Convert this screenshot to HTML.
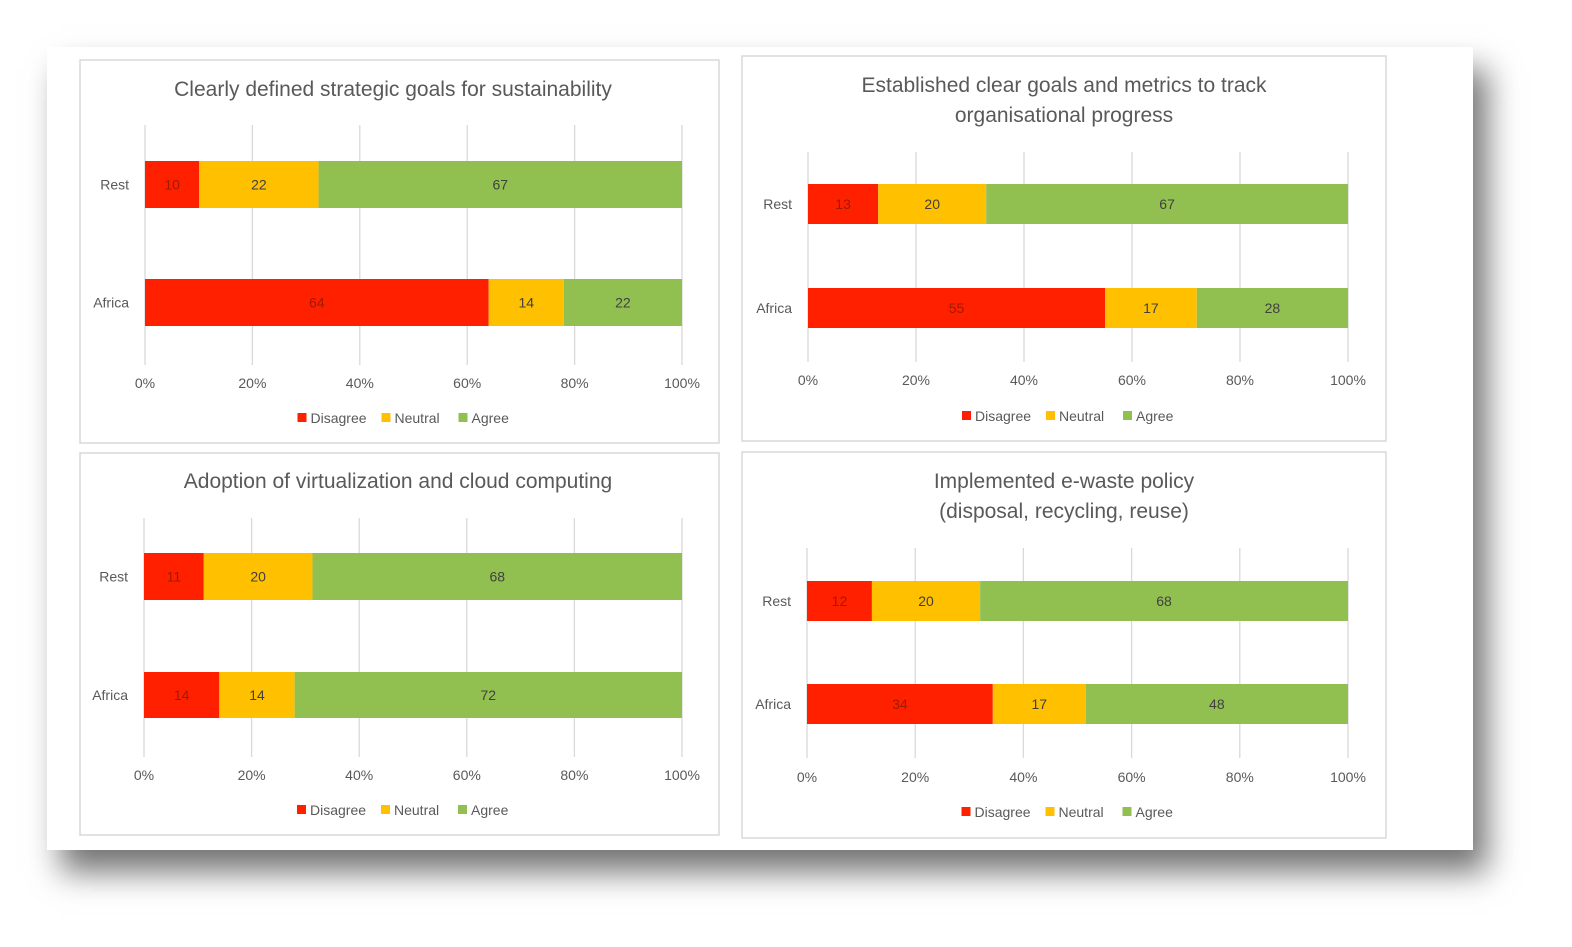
<!DOCTYPE html>
<html><head><meta charset="utf-8">
<style>
body{margin:0;width:1572px;height:947px;background:#fff;overflow:hidden;font-family:"Liberation Sans",sans-serif;}
#card{position:absolute;left:47px;top:47px;width:1426px;height:803px;background:#fff;box-shadow:14px 22px 30px rgba(0,0,0,0.55);}
svg{position:absolute;left:0;top:0;}
</style></head><body>
<div id="card"></div>
<svg id="s" width="1572" height="947"></svg>
<script>
const categories=["Rest","Africa"];
const seriesNames=["Disagree","Neutral","Agree"];
const colors=["#ff2000","#ffc000","#92c050"];
const titles=[["Clearly defined strategic goals for sustainability"],["Established clear goals and metrics to track","organisational progress"],["Adoption of virtualization and cloud computing"],["Implemented e-waste policy","(disposal, recycling, reuse)"]];
const disagree=[[10,64],[13,55],[11,14],[12,34]];
const neutral=[[22,14],[20,17],[20,14],[20,17]];
const agree=[[67,22],[67,28],[68,72],[68,48]];
const ticks=[0,20,40,60,80,100];
const panels=[
 {x:80,y:60,w:639,h:383,tx:393,ty:[89],x0:145,x1:682,bars:[[161,208],[279,326]],g:[125,365],tk:383,lg:418},
 {x:742,y:56,w:644,h:385,tx:1064,ty:[85,115],x0:808,x1:1348,bars:[[184,224],[288,328]],g:[152,362],tk:380,lg:416},
 {x:80,y:453,w:639,h:382,tx:398,ty:[481],x0:144,x1:682,bars:[[553,600],[672,718]],g:[518,757],tk:775,lg:810},
 {x:742,y:452,w:644,h:386,tx:1064,ty:[481,511],x0:807,x1:1348,bars:[[581,621],[684,724]],g:[548,758],tk:777,lg:812}];
const svg=document.getElementById('s');const NS='http://www.w3.org/2000/svg';
function el(t,a,p){const e=document.createElementNS(NS,t);for(const k in a)e.setAttribute(k,a[k]);(p||svg).appendChild(e);return e;}
function txt(s,a,p){const e=el('text',a,p);e.textContent=s;return e;}
panels.forEach((P,i)=>{
 const g=el('g',{});
 
 
 const r=el('rect',{x:P.x,y:P.y,width:P.w,height:P.h,fill:'#fff',stroke:'#d9d9d9','stroke-width':1.5},g);
 
 titles[i].forEach((t,j)=>{const e=txt(t,{x:P.tx,y:P.ty[j]+7,'text-anchor':'middle','font-size':21,fill:'#595959'},g);
  });
 const xs=v=>P.x0+(P.x1-P.x0)*v/100;
 ticks.forEach(t=>{const l=el('line',{x1:xs(t),x2:xs(t),y1:P.g[0],y2:P.g[1],stroke:'#d9d9d9','stroke-width':1.3},g);
  
  const e=txt(t+'%',{x:xs(t),y:P.tk+5,'text-anchor':'middle','font-size':14,fill:'#595959'},g);
  });
 categories.forEach((c,k)=>{
  const [y0,y1]=P.bars[k];
  const vals=[disagree[i][k],neutral[i][k],agree[i][k]];const tot=vals.reduce((a,b)=>a+b,0);
  const e=txt(c,{x:P.x0-16,y:(y0+y1)/2+5,'text-anchor':'end','font-size':14,fill:'#595959'},g);
  
  let acc=0;
  vals.forEach((v,s)=>{const a=xs(acc/tot*100),b=xs((acc+v)/tot*100);acc+=v;
   const rc=el('rect',{x:a,y:y0,width:b-a,height:y1-y0,fill:colors[s]},g);
   
   
   const lt=txt(v,{x:(a+b)/2,y:(y0+y1)/2+5,'text-anchor':'middle','font-size':14,fill:s==0?'#a01a00':'#404040'},g);
   });
 });
 const cx=(P.x0+P.x1)/2;const startX=[cx-116,cx-32,cx+45];
 seriesNames.forEach((n,s)=>{const lx=startX[s];
  const sq=el('rect',{x:lx,y:P.lg-5,width:9,height:9,fill:colors[s]},g);
  
  const e=txt(n,{x:lx+13,y:P.lg+5,'font-size':14,fill:'#595959'},g);
  });
});
</script>
</body></html>
